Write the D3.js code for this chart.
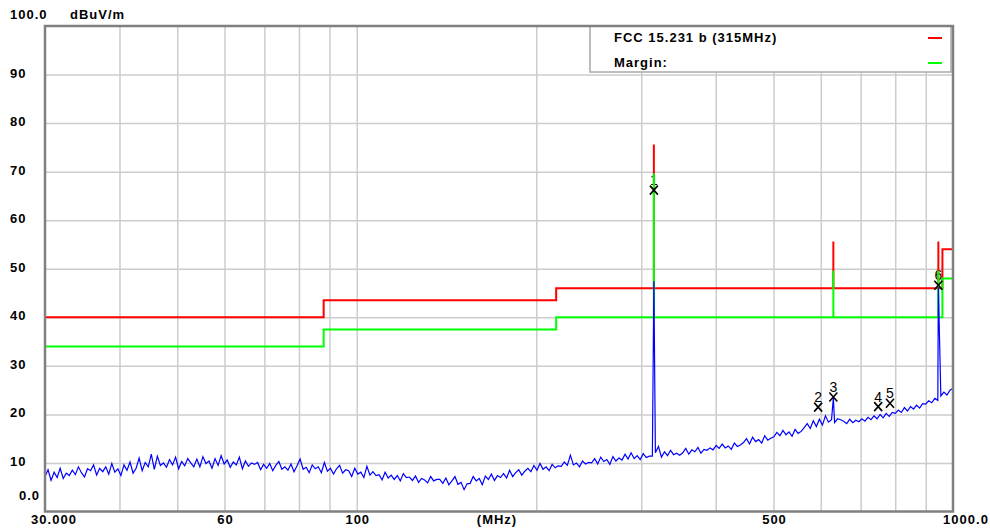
<!DOCTYPE html>
<meta charset="utf-8">
<style>
  body { margin: 0; background: #fff; }
  text { font-family: "Liberation Sans", Arial, sans-serif; font-size: 13px; fill: #000; }
  .lbl { font-weight: bold; letter-spacing: 1px; }
  .mk { font-size: 14px; }
</style>
<body>
<script src="https://cdn.jsdelivr.net/npm/d3@7"></script>
<script>

var width = 990,
    height = 531;

// FCC limit bands: from MHz, to MHz, dBuV/m
var bandStart = [30, 88, 216, 960];
var bandEnd   = [88, 216, 960, 1000];
var bandLimit = [40, 43.5, 46, 54];
// 315 MHz fundamental and harmonics limits
var spikeFreq  = [315, 630, 945];
var spikeLimit = [75.6, 55.6, 55.6];
var marginDb = 6;

// measured trace, one reading per sweep step (log steps 30..1000 MHz)
var trace = [
  7.2, 8.6, 6.4, 8.1, 7.0, 8.9, 6.8, 7.9, 7.4, 8.5,
  7.6, 9.2, 8.0, 7.1, 8.8, 8.4, 9.6, 7.5, 8.9, 8.2,
  9.2, 7.7, 9.9, 8.1, 8.8, 7.4, 9.6, 8.5, 10.2, 7.9,
  8.9, 11.0, 8.4, 10.1, 9.2, 11.8, 8.7, 11.4, 9.5, 10.0,
  9.1, 10.7, 9.6, 11.2, 8.8, 10.3, 9.4, 10.9, 10.0, 9.2,
  10.8, 9.2, 11.3, 9.9, 10.4, 8.9, 10.9, 9.5, 11.5, 9.8,
  10.6, 9.1, 10.2, 9.6, 11.2, 8.8, 10.4, 9.3, 10.0, 9.7,
  10.1, 8.6, 9.7, 8.9, 9.9, 8.4, 9.5, 10.3, 8.7, 9.2,
  8.5, 9.8, 8.2, 9.4, 10.8, 8.7, 9.1, 8.0, 9.6, 8.8,
  9.2, 8.0, 10.1, 8.3, 8.9, 7.7, 8.8, 9.5, 7.9, 8.6,
  8.4, 7.2, 8.9, 7.7, 8.1, 7.0, 9.3, 7.5, 8.2, 7.4,
  7.6, 6.5, 8.1, 6.9, 7.5, 6.6, 7.4, 6.3, 7.8, 7.0,
  7.1, 6.4, 7.3, 6.0, 6.8, 6.5, 5.9, 7.2, 6.3, 6.6,
  6.6, 5.8, 6.9, 5.5, 6.3, 7.2, 5.6, 6.0, 4.5, 5.7,
  5.8, 7.2, 6.3, 6.8, 5.5, 7.3, 6.6, 7.7, 6.4, 7.4,
  7.0, 7.8, 6.9, 8.5, 7.2, 8.0, 8.6, 7.5, 8.3, 8.9,
  8.2, 9.5, 8.5, 9.9, 8.7, 9.2, 8.4, 9.7, 9.0, 9.4,
  9.3, 10.2, 9.5, 11.6, 9.6, 10.0, 9.2, 10.4, 9.8, 10.1,
  10.0, 10.9, 9.8, 11.2, 10.3, 10.7, 9.7, 11.3, 10.4, 11.0,
  10.6, 11.8, 10.8, 12.1, 10.9, 11.5, 10.7, 11.9, 11.1, 11.4,
  11.4, 12.1, 13.4, 11.2, 12.3, 11.5, 12.6, 11.7, 12.0, 11.6,
  12.1, 13.0, 11.8, 12.7, 12.3, 13.2, 12.0, 12.8, 12.6, 13.1,
  12.7, 13.6, 13.0, 13.9, 13.1, 13.5, 12.8, 14.1, 13.4, 13.7,
  14.2, 15.0, 13.9, 15.3, 14.4, 14.8, 14.1, 15.6, 14.7, 15.1,
  15.4, 16.3, 15.6, 16.7, 15.8, 16.4, 15.5, 16.9, 16.1, 16.5,
  17.3, 18.1, 17.1, 18.7, 17.5, 19.0, 17.8, 19.7, 18.4, 18.9,
  18.3, 19.1, 18.9, 18.6, 18.1, 19.0, 18.3, 18.8, 18.5, 19.1,
  18.6, 19.4, 18.9, 19.7, 19.1, 20.0, 19.3, 20.2, 19.6, 20.4,
  20.2, 20.9, 20.4, 21.4, 20.7, 21.6, 21.1, 21.9, 21.3, 22.2,
  22.1, 22.8, 22.4, 23.3, 22.9, 23.8, 24.6, 24.0, 25.0, 25.4
];
var peakFreq  = [315, 630, 945];
var peakLevel = [47.4, 23.4, 46.2];

var markerFreq  = [315, 594, 630, 749, 784, 945];
var markerLevel = [66.2, 21.5, 23.6, 21.6, 22.3, 46.6];
var markerName  = ["1", "2", "3", "4", "5", "6"];

var yTicks = [10, 20, 30, 40, 50, 60, 70, 80, 90];
var yTickText = ["10", "20", "30", "40", "50", "60", "70", "80", "90"];
var xGrid = [40, 50, 60, 70, 80, 90, 100, 200, 300, 400, 500, 600, 700, 800, 900];
var xLabelFreq = [30, 60, 100, 500, 1000];
var xLabelText = ["30.000", "60", "100", "500", "1000.0"];

var svg = d3.select("body").append("svg")
    .attr("width", width)
    .attr("height", height);

var x = d3.scaleLog().domain([30, 1000]).range([45, 953]);
var y = d3.scaleLinear().domain([0, 100]).range([511.5, 26]);

// grid
svg.append("g")
    .attr("transform", "translate(0,511.5)")
    .call(d3.axisBottom(x).tickValues(xGrid).tickSize(-485.5).tickFormat(""))
    .call(function(g) { g.select(".domain").remove(); })
    .selectAll("line").attr("stroke", "#cccccc").attr("stroke-width", 1.5);
svg.append("g")
    .attr("transform", "translate(45,0)")
    .call(d3.axisLeft(y).tickValues(yTicks).tickSize(-908).tickFormat(""))
    .call(function(g) { g.select(".domain").remove(); })
    .selectAll("line").attr("stroke", "#cccccc").attr("stroke-width", 1.5);

// legend box
svg.append("rect")
    .attr("x", 590).attr("y", 26).attr("width", 361).attr("height", 46)
    .attr("fill", "#fff").attr("stroke", "#a8a8a8").attr("stroke-width", 1.5);
svg.append("text").attr("class", "lbl").attr("x", 614).attr("y", 42).text("FCC 15.231 b (315MHz)");
svg.append("text").attr("class", "lbl").attr("x", 614).attr("y", 67).text("Margin:");
svg.append("line").attr("x1", 928).attr("x2", 942).attr("y1", 38).attr("y2", 38)
    .attr("stroke", "#ff0000").attr("stroke-width", 2);
svg.append("line").attr("x1", 928).attr("x2", 942).attr("y1", 63).attr("y2", 63)
    .attr("stroke", "#00ff00").attr("stroke-width", 2);

// marker numbers (drawn under the limit lines)
svg.selectAll(".mk").data(markerFreq).enter().append("text")
    .attr("class", "mk")
    .attr("x", function(d) { return x(d); })
    .attr("y", function(d, i) { return y(markerLevel[i]) - 5; })
    .attr("text-anchor", "middle")
    .text(function(d, i) { return markerName[i]; });

// limit step lines
function limitPoints(offset) {
  var pts = [];
  for (var i = 0; i < bandStart.length; i++) {
    pts.push([bandStart[i], bandLimit[i] - offset]);
    for (var k = 0; k < spikeFreq.length; k++) {
      if (spikeFreq[k] > bandStart[i] && spikeFreq[k] < bandEnd[i]) {
        pts.push([spikeFreq[k], bandLimit[i] - offset]);
        pts.push([spikeFreq[k], spikeLimit[k] - offset]);
        pts.push([spikeFreq[k], bandLimit[i] - offset]);
      }
    }
    pts.push([bandEnd[i], bandLimit[i] - offset]);
  }
  return pts;
}
var line = d3.line().x(function(d) { return x(d[0]); }).y(function(d) { return y(d[1]); });

svg.append("path").attr("d", line(limitPoints(0)))
    .attr("fill", "none").attr("stroke", "#ff0000").attr("stroke-width", 2);
svg.append("path").attr("d", line(limitPoints(marginDb)))
    .attr("fill", "none").attr("stroke", "#00ff00").attr("stroke-width", 2);

// measured trace
var step = Math.log(1000 / 30) / (trace.length - 1);
var tracePts = trace.map(function(v, i) { return [30 * Math.exp(step * i), v]; });
peakFreq.forEach(function(f, i) { tracePts.push([f, peakLevel[i]]); });
tracePts.sort(function(a, b) { return a[0] - b[0]; });
svg.append("path").attr("d", line(tracePts))
    .attr("fill", "none").attr("stroke", "#0000ff").attr("stroke-width", 1.2);

// marker crosses
svg.selectAll(".mx").data(markerFreq).enter().append("path")
    .attr("transform", function(d, i) { return "translate(" + x(d) + "," + y(markerLevel[i]) + ")"; })
    .attr("d", "M-4,-4.5L4,4.5M4,-4.5L-4,4.5")
    .attr("stroke", "#000").attr("stroke-width", 1.6).attr("fill", "none");

// frame
svg.append("rect")
    .attr("x", 45).attr("y", 26).attr("width", 908).attr("height", 485.5)
    .attr("fill", "none").attr("stroke", "#808080").attr("stroke-width", 2.5);

// axis text
svg.append("text").attr("class", "lbl").attr("x", 10).attr("y", 19).text("100.0");
svg.append("text").attr("class", "lbl").attr("x", 70).attr("y", 19).text("dBuV/m");
svg.selectAll(".yl").data(yTicks).enter().append("text")
    .attr("class", "lbl")
    .attr("x", 10)
    .attr("y", function(d) { return y(d) + 3; })
    .text(function(d, i) { return yTickText[i]; });
svg.append("text").attr("class", "lbl").attr("x", 19).attr("y", y(0) - 12).text("0.0");

svg.selectAll(".xl").data(xLabelFreq).enter().append("text")
    .attr("class", "lbl")
    .attr("x", function(d, i) { return i == 0 ? x(d) + 9 : (i == 4 ? x(d) + 13 : x(d) + 1); })
    .attr("y", 524)
    .attr("text-anchor", "middle")
    .text(function(d, i) { return xLabelText[i]; });
svg.append("text").attr("class", "lbl").attr("x", 497).attr("y", 524)
    .attr("text-anchor", "middle").text("(MHz)");

</script>
</body>
